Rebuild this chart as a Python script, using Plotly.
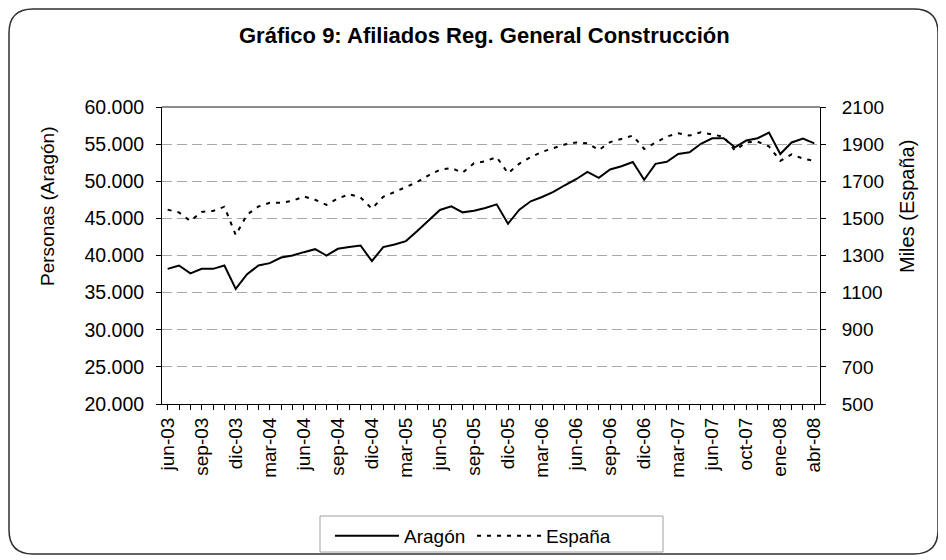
import plotly.graph_objects as go

# ---------------- data ----------------
months = [
    "jun-03", "jul-03", "ago-03", "sep-03", "oct-03", "nov-03", "dic-03",
    "ene-04", "feb-04", "mar-04", "abr-04", "may-04", "jun-04", "jul-04", "ago-04", "sep-04", "oct-04", "nov-04", "dic-04",
    "ene-05", "feb-05", "mar-05", "abr-05", "may-05", "jun-05", "jul-05", "ago-05", "sep-05", "oct-05", "nov-05", "dic-05",
    "ene-06", "feb-06", "mar-06", "abr-06", "may-06", "jun-06", "jul-06", "ago-06", "sep-06", "oct-06", "nov-06", "dic-06",
    "ene-07", "feb-07", "mar-07", "abr-07", "may-07", "jun-07", "jul-07", "ago-07", "oct-07", "nov-07", "dic-07",
    "ene-08", "feb-08", "mar-08", "abr-08",
]
shown_labels = ["jun-03", "sep-03", "dic-03", "mar-04", "jun-04", "sep-04", "dic-04", "mar-05", "jun-05", "sep-05",
                "dic-05", "mar-06", "jun-06", "sep-06", "dic-06", "mar-07", "jun-07", "oct-07", "ene-08", "abr-08"]

aragon = [
    38200, 38650, 37600, 38200, 38200, 38650, 35500, 37480, 38650, 38970,
    39730, 40000, 40450, 40850, 40000, 40900, 41130, 41350, 39240, 41130,
    41490, 41940, 43300, 44700, 46130, 46620, 45810, 46040, 46400, 46890,
    44280, 46170, 47300, 47880, 48560, 49460, 50270, 51260, 50450, 51580,
    52030, 52600, 50200, 52350, 52620, 53670, 53900, 55050, 55780, 55780,
    54560, 55480, 55800, 56550, 53670, 55220, 55750, 55110,
]
espana = [
    1547, 1532, 1486, 1535, 1540, 1563, 1410, 1520, 1564, 1584,
    1584, 1594, 1618, 1600, 1573, 1607, 1630, 1613, 1552, 1616,
    1642, 1668, 1696, 1732, 1762, 1771, 1746, 1797, 1808, 1830,
    1743, 1795, 1830, 1858, 1880, 1898, 1909, 1905, 1868, 1911,
    1928, 1946, 1874, 1906, 1941, 1958, 1946, 1964, 1953, 1940,
    1866, 1909, 1913, 1888, 1810, 1845, 1822, 1810,
]

left_ticks = [20000, 25000, 30000, 35000, 40000, 45000, 50000, 55000, 60000]
right_ticks = [500, 700, 900, 1100, 1300, 1500, 1700, 1900, 2100]

# ---------------- layout geometry (page pixels; page body has 8px margin) ----------------
OFF = 8
W, H = 946 - OFF, 560 - OFF
PLOT_L, PLOT_R, PLOT_T, PLOT_B = 162, 820, 107, 404   # page coords of plot area
L = PLOT_L - OFF
T = PLOT_T - OFF
R = W - (PLOT_R - OFF)
B = H - (PLOT_B - OFF)
PW, PH = PLOT_R - PLOT_L, PLOT_B - PLOT_T
FONT = "Arial, Liberation Sans, sans-serif"


def px(x):
    return (x - PLOT_L) / PW


def py(y):
    return (PLOT_B - y) / PH


fig = go.Figure()
fig.add_trace(go.Scatter(
    x=months, y=aragon, name="Aragón", mode="lines",
    line=dict(color="black", width=2), yaxis="y",
))
fig.add_trace(go.Scatter(
    x=months, y=espana, name="España", mode="lines",
    line=dict(color="black", width=2, dash="4px,6px"), yaxis="y2",
))

ticktext = [m if m in shown_labels else "" for m in months]

fig.update_layout(
    width=W, height=H,
    margin=dict(l=L, r=R, t=T, b=B, autoexpand=False),
    paper_bgcolor="white", plot_bgcolor="white",
    font=dict(family=FONT, color="black", size=19),
    separators=",.",
    showlegend=True,
    legend=dict(
        orientation="h", x=px(330), xanchor="left", y=py(517), yanchor="top",
        borderwidth=0, bgcolor="rgba(0,0,0,0)", font=dict(size=19, family=FONT),
        itemwidth=64, entrywidth=63, entrywidthmode="pixels", tracegroupgap=0,
    ),
    xaxis=dict(
        type="category", categoryorder="array", categoryarray=months,
        range=[-0.5, len(months) - 0.5],
        tickmode="array", tickvals=months, ticktext=ticktext,
        tickangle=-90, tickfont=dict(size=19, family=FONT),
        ticks="outside", ticklen=5, tickcolor="black",
        showline=True, linecolor="black", linewidth=1,
        showgrid=False, zeroline=False,
    ),
    yaxis=dict(
        range=[20000, 60000], tickvals=left_ticks, tickformat=",.0f",
        ticks="outside", ticklen=5, tickcolor="black", ticklabelstandoff=8,
        showline=True, linecolor="black", linewidth=1,
        showgrid=True, gridcolor="#a8a8a8", griddash="10px,5px", gridwidth=1,
        zeroline=False, tickfont=dict(size=19.5, family=FONT),
    ),
    yaxis2=dict(
        range=[500, 2100], tickvals=right_ticks, tickformat="d",
        overlaying="y", side="right",
        ticks="outside", ticklen=5, tickcolor="black", ticklabelstandoff=12,
        showline=True, linecolor="black", linewidth=1,
        showgrid=False, zeroline=False, tickfont=dict(size=19, family=FONT),
    ),
)

# top border of plot area (solid gray)
fig.add_shape(type="line", xref="paper", yref="paper", x0=0, x1=1, y0=1, y1=1,
              line=dict(color="#8c8c8c", width=2))

# legend frame (page coords)
fig.add_shape(type="rect", xref="paper", yref="paper",
              x0=px(320), x1=px(663), y0=py(516), y1=py(552),
              line=dict(color="#a0a0a0", width=1), fillcolor="white", layer="below")

# rounded chart border (page coords)
bx0, bx1, by0, by1, r = 9, 938, 9, 554, 24
path = (
    f"M {px(bx0 + r)},{py(by0)} L {px(bx1 - r)},{py(by0)} "
    f"Q {px(bx1)},{py(by0)} {px(bx1)},{py(by0 + r)} "
    f"L {px(bx1)},{py(by1 - r)} Q {px(bx1)},{py(by1)} {px(bx1 - r)},{py(by1)} "
    f"L {px(bx0 + r)},{py(by1)} Q {px(bx0)},{py(by1)} {px(bx0)},{py(by1 - r)} "
    f"L {px(bx0)},{py(by0 + r)} Q {px(bx0)},{py(by0)} {px(bx0 + r)},{py(by0)} Z"
)
fig.add_shape(type="path", path=path, xref="paper", yref="paper",
              line=dict(color="#303030", width=1.5), layer="below")

# title and axis titles
fig.add_annotation(text="<b>Gráfico 9: Afiliados Reg. General Construcción</b>",
                   xref="paper", yref="paper", x=px(484), y=py(35),
                   showarrow=False, font=dict(size=22, family=FONT),
                   xanchor="center", yanchor="middle")
fig.add_annotation(text="Personas (Aragón)", xref="paper", yref="paper",
                   x=px(47), y=py(207), textangle=-90, showarrow=False,
                   font=dict(size=19, family=FONT), xanchor="center", yanchor="middle")
fig.add_annotation(text="Miles (España)", xref="paper", yref="paper",
                   x=px(907), y=py(207), textangle=-90, showarrow=False,
                   font=dict(size=20, family=FONT), xanchor="center", yanchor="middle")

fig.write_html("out.html")
